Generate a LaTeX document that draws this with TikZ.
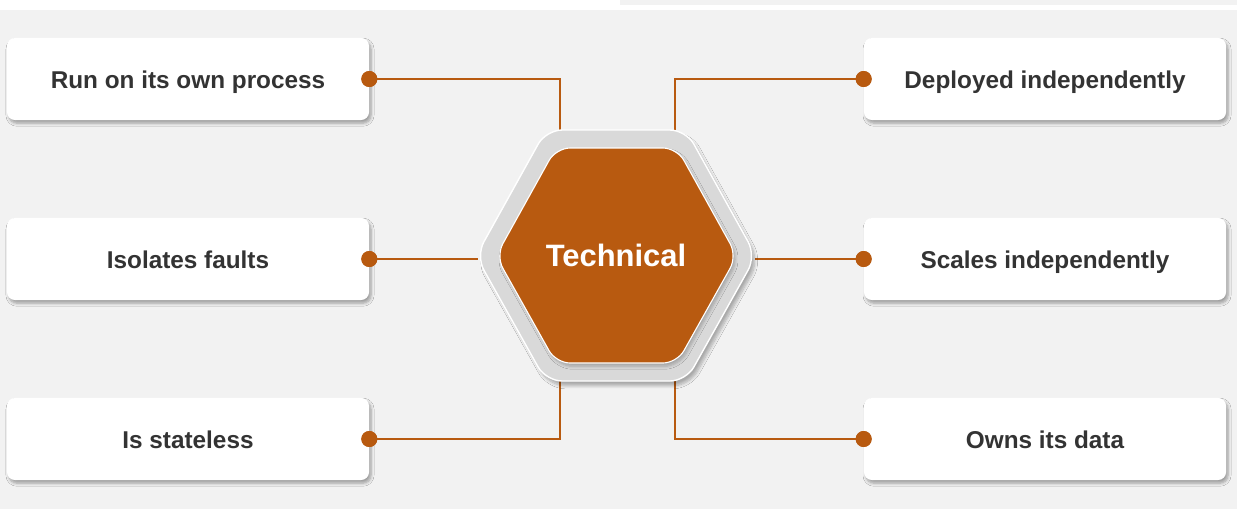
\documentclass[tikz,border=0pt]{standalone}
\usepackage{fontspec}
\setmainfont{Liberation Sans}
\usetikzlibrary{shadows.blur}
\definecolor{rust}{HTML}{B85A10}
\definecolor{panel}{HTML}{F2F2F2}
\definecolor{ink}{HTML}{333333}
\definecolor{rim}{HTML}{D9D9D9}

\begin{document}
\begin{tikzpicture}[x=0.025cm, y=-0.025cm,
		card/.style={fill=white, rounded corners=0.2cm, minimum width=9.05cm, minimum height=2.05cm, text height=14pt, text depth=0pt, font=\fontsize{17.3}{20}\selectfont\bfseries, text=ink, blur shadow={shadow xshift=0.05cm, shadow yshift=-0.08cm, shadow blur steps=6, shadow opacity=35}},
		link/.style={draw=rust, line width=1.8pt},
		pin/.style={circle, fill=rust, inner sep=0pt, minimum size=0.4cm}]
		\useasboundingbox (0,0) rectangle (1237,509);
		\fill [panel] (0,0) rectangle (1237,509);
		\fill [white] (0,0) rectangle (1237,10);
		\fill [panel] (620,0) rectangle (1237,4.5);

		\node [card] (run) at (188,79) {Run on its own process};
		\node [card] (faults) at (188,259) {Isolates faults};
		\node [card] (stateless) at (188,439) {Is stateless};
		\node [card] (deploy) at (1045,79) {Deployed independently};
		\node [card] (scale) at (1045,259) {Scales independently};
		\node [card] (data) at (1045,439) {Owns its data};

		\coordinate (hubnw) at (560,132);
		\coordinate (hubne) at (675,132);
		\coordinate (hubw) at (478,258);
		\coordinate (hube) at (755,258);
		\coordinate (hubsw) at (560,379);
		\coordinate (hubse) at (675,379);

		\node [pin] (prun) at (run.east) {};
		\node [pin] (pfaults) at (faults.east) {};
		\node [pin] (pstateless) at (stateless.east) {};
		\node [pin] (pdeploy) at (deploy.west) {};
		\node [pin] (pscale) at (scale.west) {};
		\node [pin] (pdata) at (data.west) {};

		\draw [link] (prun.center) -| (hubnw);
		\draw [link] (pdeploy.center) -| (hubne);
		\draw [link] (pfaults.center) -- (pfaults.center -| hubw);
		\draw [link] (pscale.center) -- (pscale.center -| hube);
		\draw [link] (pstateless.center) -| (hubsw);
		\draw [link] (pdata.center) -| (hubse);

		\path [fill=rim, draw=white, line width=1pt, rounded corners=0.4cm, blur shadow={shadow xshift=0.08cm, shadow yshift=-0.12cm, shadow blur steps=8, shadow opacity=30}]
		(476,256) -- (546,130) -- (686,130) -- (756,256) -- (686,381) -- (546,381) -- cycle;
		\path [fill=rust, draw=white, line width=0.8pt, rounded corners=0.35cm, blur shadow={shadow xshift=0.05cm, shadow yshift=-0.08cm, shadow blur steps=6, shadow opacity=25}]
		(496,256) -- (556,148) -- (677,148) -- (737,256) -- (677,363) -- (556,363) -- cycle;
		\node [text=white, font=\fontsize{22}{26}\selectfont\bfseries] (hub) at (616,255) {Technical};

		\node [pin] at (run.east) {};
		\node [pin] at (faults.east) {};
		\node [pin] at (stateless.east) {};
		\node [pin] at (deploy.west) {};
		\node [pin] at (scale.west) {};
		\node [pin] at (data.west) {};
	\end{tikzpicture}
\end{document}
